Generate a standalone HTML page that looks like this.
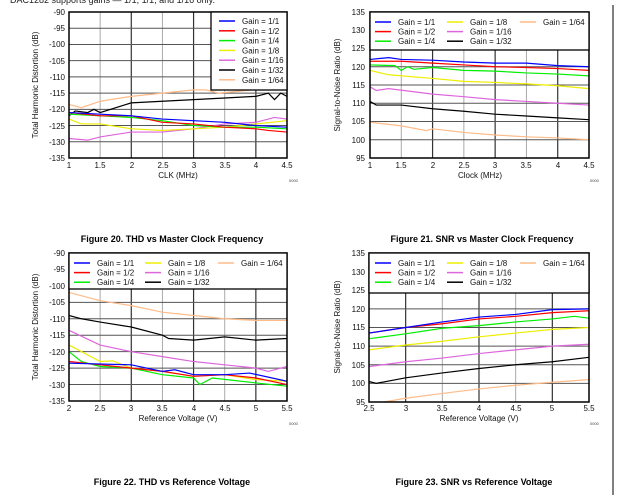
<!DOCTYPE html>
<html><head><meta charset="utf-8"><style>
body{margin:0;background:#fff;width:620px;height:495px;overflow:hidden}
svg{display:block;font-family:"Liberation Sans",Arial,sans-serif}
</style></head><body>
<svg id="s" width="620" height="495" xmlns="http://www.w3.org/2000/svg">
<rect width="620" height="495" fill="#fff"/>
<text x="10" y="3" font-size="9" fill="#222">DAC1282 supports gains — 1/1, 1/1, and 1/16 only.</text>
<line x1="613" y1="5" x2="613" y2="495" stroke="#000" stroke-width="1"/>
<g id="g"></g>
<g font-size="8" fill="#111">
<g text-anchor="end">
<text x="65" y="15">-90</text><text x="65" y="31">-95</text><text x="65" y="47">-100</text><text x="65" y="64">-105</text><text x="65" y="80">-110</text><text x="65" y="96">-115</text><text x="65" y="112">-120</text><text x="65" y="129">-125</text><text x="65" y="145">-130</text><text x="65" y="161">-135</text>
<text x="365" y="15">135</text><text x="365" y="33">130</text><text x="365" y="51">125</text><text x="365" y="70">120</text><text x="365" y="88">115</text><text x="365" y="106">110</text><text x="365" y="124">105</text><text x="365" y="143">100</text><text x="365" y="161">95</text>
<text x="65" y="256">-90</text><text x="65" y="272">-95</text><text x="65" y="289">-100</text><text x="65" y="305">-105</text><text x="65" y="322">-110</text><text x="65" y="338">-115</text><text x="65" y="355">-120</text><text x="65" y="371">-125</text><text x="65" y="388">-130</text><text x="65" y="404">-135</text>
<text x="365" y="256">135</text><text x="365" y="275">130</text><text x="365" y="293">125</text><text x="365" y="312">120</text><text x="365" y="330">115</text><text x="365" y="349">110</text><text x="365" y="368">105</text><text x="365" y="386">100</text><text x="365" y="405">95</text>
</g>
<g text-anchor="middle">
<text x="69" y="168">1</text><text x="100" y="168">1.5</text><text x="132" y="168">2</text><text x="163" y="168">2.5</text><text x="194" y="168">3</text><text x="225" y="168">3.5</text><text x="256" y="168">4</text><text x="287" y="168">4.5</text>
<text x="178" y="178">CLK (MHz)</text>
<text x="370" y="168">1</text><text x="401" y="168">1.5</text><text x="433" y="168">2</text><text x="464" y="168">2.5</text><text x="495" y="168">3</text><text x="526" y="168">3.5</text><text x="558" y="168">4</text><text x="589" y="168">4.5</text>
<text x="480" y="178">Clock (MHz)</text>
<text x="69" y="411">2</text><text x="100" y="411">2.5</text><text x="131" y="411">3</text><text x="162" y="411">3.5</text><text x="194" y="411">4</text><text x="225" y="411">4.5</text><text x="256" y="411">5</text><text x="287" y="411">5.5</text>
<text x="178" y="421">Reference Voltage (V)</text>
<text x="369" y="411">2.5</text><text x="406" y="411">3</text><text x="442" y="411">3.5</text><text x="479" y="411">4</text><text x="516" y="411">4.5</text><text x="552" y="411">5</text><text x="589" y="411">5.5</text>
<text x="479" y="421">Reference Voltage (V)</text>
<text transform="translate(38,85) rotate(-90)">Total Harmonic Distortion (dB)</text>
<text transform="translate(340,85) rotate(-90)">Signal-to-Noise Ratio (dB)</text>
<text transform="translate(38,327) rotate(-90)">Total Harmonic Distortion (dB)</text>
<text transform="translate(340,327) rotate(-90)">Signal-to-Noise Ratio (dB)</text>
</g>
<g font-size="4" fill="#444"><text x="289" y="182">0000</text><text x="590" y="182">0000</text><text x="289" y="425">0000</text><text x="590" y="425">0000</text></g>
<g font-size="9" font-weight="bold" text-anchor="middle" fill="#000">
<text x="172" y="242">Figure 20. THD vs Master Clock Frequency</text>
<text x="482" y="242">Figure 21. SNR vs Master Clock Frequency</text>
<text x="172" y="485">Figure 22. THD vs Reference Voltage</text>
<text x="474" y="485">Figure 23. SNR vs Reference Voltage</text>
</g>
</g>
<g id="lg" font-size="8" fill="#111"></g>
</svg>
<script>
var C=["#00f","#f00","#0e0","#ee0","#d6d","#000","#fb8"];
var N=["Gain = 1/1","Gain = 1/2","Gain = 1/4","Gain = 1/8","Gain = 1/16","Gain = 1/32","Gain = 1/64"];
var g=document.getElementById('g'),lg=document.getElementById('lg');
function el(p,t,a){var e=document.createElementNS('http://www.w3.org/2000/svg',t);for(var k in a)e.setAttribute(k,a[k]);p.appendChild(e);return e}
function chart(o){
 var X=function(v){return o.x0+(v-o.xmin)/(o.xmax-o.xmin)*(o.x1-o.x0)},Y=function(v){return o.y1-(v-o.ymin)/(o.ymax-o.ymin)*(o.y1-o.y0)};
 for(var v=o.xmin+o.xs;v<o.xmax-1e-6;v+=o.xs){var maj=Math.abs(v-Math.round(v))<1e-6;el(g,'line',{x1:X(v),x2:X(v),y1:o.y0,y2:o.y1,stroke:maj?'#333':'#aaa','stroke-width':maj?1.2:1});}
 for(var v=o.ymin+5;v<o.ymax;v+=5){el(g,'line',{x1:o.x0,x2:o.x1,y1:Y(v),y2:Y(v),stroke:'#555','stroke-width':1});}
 var order=[6,5,4,3,2,1,0];
 order.forEach(function(i){var d=o.s[i].map(function(p){return X(p[0])+','+Y(p[1])}).join(' ');el(g,'polyline',{points:d,fill:'none',stroke:C[i],'stroke-width':1.2});});
 el(g,'rect',{x:o.x0,y:o.y0,width:o.x1-o.x0,height:o.y1-o.y0,fill:'none',stroke:'#000','stroke-width':1.5});
 if(o.lg){var L=o.lg;el(lg,'rect',{x:L.x,y:o.y0,width:L.w,height:L.h,fill:'#fff',stroke:'#000','stroke-width':1.3});
  for(var i=0;i<7;i++){var lx,ly;if(L.cols){var c=Math.floor(i/3),r=i%3;lx=L.cols[c];ly=o.y0+10+r*9.6;}else{lx=L.cols1;ly=o.y0+9+i*9.8;}
   el(lg,'line',{x1:lx,x2:lx+16,y1:ly,y2:ly,stroke:C[i],'stroke-width':1.5});var t=el(lg,'text',{x:lx+23,y:ly+3});t.textContent=N[i];}}
}
chart({x0:69,x1:287,y0:12,y1:158,xmin:1,xmax:4.5,ymin:-135,ymax:-90,xs:0.5,
 lg:{x:211,w:76,h:78,cols1:219},
 s:[[[1,-121],[1.5,-121.5],[2,-122],[2.5,-123],[3,-123.5],[3.5,-124],[4,-125],[4.5,-125.5]],
 [[1,-121],[1.5,-122],[2,-122],[2.5,-124],[3,-124.5],[3.5,-125.5],[4,-126],[4.2,-126.5],[4.5,-127]],
 [[1,-121.5],[1.5,-122],[2,-122.5],[2.5,-123.5],[3,-125],[3.5,-125.5],[4,-125.5],[4.5,-126]],
 [[1,-123],[1.2,-124.5],[1.5,-124.5],[2,-126],[2.5,-126.5],[3,-126],[3.5,-125.5],[4,-124.5],[4.5,-123.5]],
 [[1,-129],[1.3,-129.5],[1.5,-128.5],[2,-127],[2.5,-127],[3,-126],[3.5,-124.5],[4,-124],[4.3,-122.5],[4.5,-123]],
 [[1,-122],[1.1,-120.5],[1.3,-121],[1.4,-120],[1.5,-121],[2,-118],[2.5,-117.5],[3,-117],[3.5,-116.5],[4,-116],[4.2,-115],[4.3,-117],[4.4,-115],[4.5,-116]],
 [[1,-118.5],[1.2,-119.5],[1.5,-117.5],[2,-116],[2.5,-115],[3,-114],[3.2,-114],[3.4,-115],[4.5,-113]]]});
chart({x0:370,x1:589,y0:12,y1:158,xmin:1,xmax:4.5,ymin:95,ymax:135,xs:0.5,
 lg:{x:370,w:219,h:38,cols:[375,447,520]},
 s:[[[1,122],[1.3,122.5],[1.5,122],[2,121.8],[2.5,121.3],[3,121],[3.5,121],[4,120.3],[4.5,120]],
 [[1,121.5],[1.5,121.5],[2,121],[2.5,120.5],[3,120],[3.5,119.8],[4,119.5],[4.5,119]],
 [[1,120.5],[1.4,120.3],[1.5,119],[1.6,120],[1.7,119.3],[2,119.8],[2.5,119],[3,118.8],[3.5,118.3],[4,118],[4.5,117.5]],
 [[1,119],[1.3,117.8],[2,116.8],[2.5,116],[3,115.7],[3.5,115.3],[4,114.8],[4.5,114]],
 [[1,114.5],[1.1,113.5],[1.3,114],[2,112.5],[2.5,111.8],[3,111],[3.5,110.5],[4,110],[4.5,109.5]],
 [[1,110.5],[1.1,109.5],[1.5,109.5],[2,108.5],[2.5,107.8],[3,107],[3.5,106.5],[4,106],[4.5,105.5]],
 [[1,104.8],[1.5,103.8],[1.9,102.5],[2,103],[2.5,102],[3,101.3],[3.5,100.8],[4,100.5],[4.5,100]]]});
chart({x0:69,x1:287,y0:253,y1:401,xmin:2,xmax:5.5,ymin:-135,ymax:-90,xs:0.5,
 lg:{x:69,w:218,h:36,cols:[74,145,218]},
 s:[[[2,-123.5],[3,-124],[3.5,-126],[3.7,-125.5],[4,-127],[4.5,-127],[4.9,-126.5],[5.5,-129]],
 [[2,-123],[2.5,-124],[3,-125],[3.5,-126],[4,-127.5],[4.5,-127],[5,-128],[5.5,-130]],
 [[2,-120],[2.2,-123],[2.5,-124.5],[3,-125],[3.5,-127],[4,-128],[4.1,-130],[4.3,-128],[5,-129.5],[5.5,-130.5]],
 [[2,-118],[2.5,-123],[2.7,-122.8],[3,-125],[3.5,-126],[4,-127.5],[4.5,-127],[5,-128.5],[5.5,-129]],
 [[2,-113.5],[2.5,-118],[3,-120],[3.5,-121.5],[4,-123],[4.5,-124],[5,-125],[5.2,-126],[5.5,-124.5]],
 [[2,-109],[2.2,-110],[2.5,-111],[3,-112.5],[3.5,-115],[3.6,-116],[4,-116.5],[4.5,-115.5],[5,-116.5],[5.5,-116]],
 [[2,-102],[2.5,-104.5],[3,-106],[3.5,-108],[4,-109],[4.5,-110],[5,-110.5],[5.5,-110.5]]]});
chart({x0:369,x1:589,y0:253,y1:402,xmin:2.5,xmax:5.5,ymin:95,ymax:135,xs:0.5,
 lg:{x:369,w:220,h:40,cols:[375,447,520]},
 s:[[[2.5,113.5],[3,115],[3.5,116.5],[3.7,117],[4,117.8],[4.5,118.5],[5,119.8],[5.5,120]],
 [[2.5,113.5],[3,115],[3.5,116],[4,117.3],[4.5,118],[5,119],[5.5,119.5]],
 [[2.5,112],[3,113.3],[3.5,114.8],[4,115.5],[4.5,116.5],[5,117.3],[5.3,118],[5.5,117.5]],
 [[2.5,109],[3,110.3],[3.5,111.3],[4,112.5],[4.5,113.5],[5,114.5],[5.5,115]],
 [[2.5,104.5],[3,105.8],[3.5,106.8],[4,108],[4.5,109],[5,110],[5.5,110.5]],
 [[2.5,100.5],[2.6,100],[3,101.5],[3.5,102.8],[4,104],[4.5,105],[5,105.8],[5.5,107]],
 [[2.7,95],[3,96],[3.5,97.3],[4,98.5],[4.5,99.5],[5,100.3],[5.5,101]]]});
</script>
</body></html>
